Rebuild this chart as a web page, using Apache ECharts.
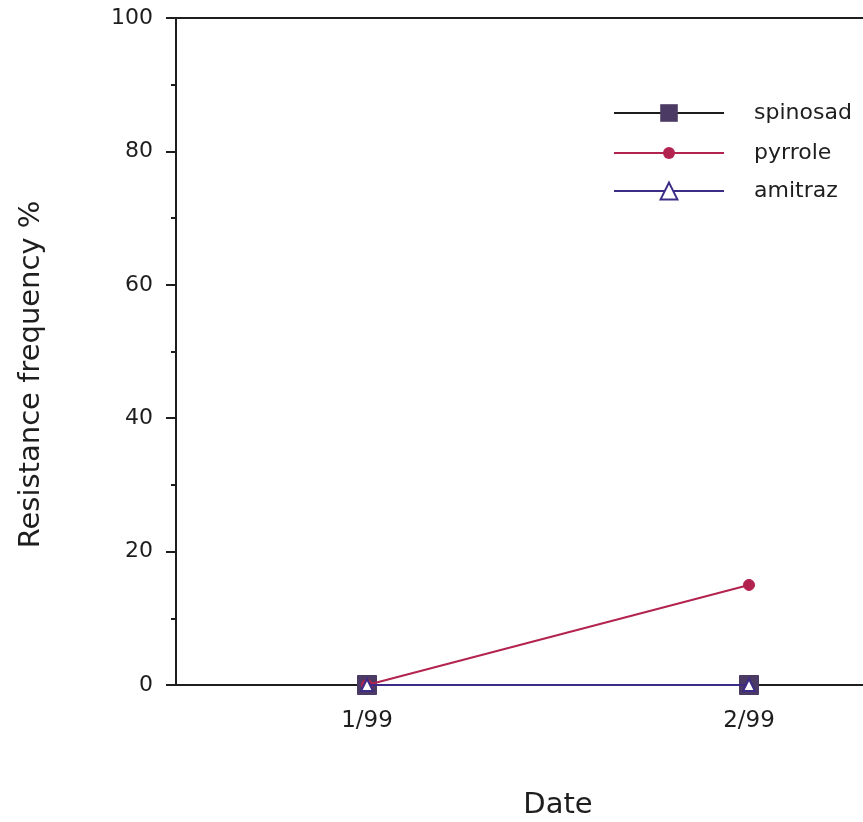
<!DOCTYPE html>
<html>
<head>
<meta charset="utf-8">
<style>
  html, body { margin: 0; padding: 0; background: #fff; overflow: hidden; }
  #chart { width: 950px; height: 822px; }
</style>
<script src="https://cdn.jsdelivr.net/npm/echarts@6/dist/echarts.min.js"></script>
</head>
<body>
<div id="chart"></div>
<script>
// Sampling dates and resistance frequencies (%) per insecticide
const dates = ['1/99', '2/99'];
const spinosad = [0, 0];
const pyrrole = [0, 15];
const amitraz = [0, 0];
const yTicks = [0, 20, 40, 60, 80, 100];

const ink = '#1e1e1e';
const font = 'DejaVu Sans, Verdana, sans-serif';

const colors = {
  spinosad: { line: '#1c1c1c', mark: '#4b3a63' },
  pyrrole: { line: '#b3234f', mark: '#b3234f' },
  amitraz: { line: '#3d2c86', mark: '#3d2c86' }
};

// one legend block per series so each icon keeps its own marker size
function legendBlock(name, top, itemHeight) {
  return {
    left: 608, top: top,
    orient: 'vertical',
    itemWidth: 110, itemHeight: itemHeight,
    textStyle: { fontFamily: font, fontSize: 22, lineHeight: 22, color: ink, padding: [0, 0, 0, 25] },
    data: [name]
  };
}

const chart = echarts.init(document.getElementById('chart'));
chart.setOption({
  backgroundColor: '#fff',
  animation: false,
  grid: {
    left: 176, top: 18, width: 764, height: 667,
    outerBoundsMode: 'none',
    show: true, borderColor: ink, borderWidth: 2, backgroundColor: 'transparent'
  },
  legend: [
    legendBlock('spinosad', 97, 22),
    legendBlock('pyrrole', 137, 15),
    legendBlock('amitraz', 175, 21)
  ],
  xAxis: {
    type: 'category',
    data: dates,
    boundaryGap: true,
    name: 'Date',
    nameLocation: 'middle',
    nameGap: 106,
    nameTextStyle: { fontFamily: font, fontSize: 29, color: ink },
    axisLine: { lineStyle: { color: ink, width: 2 } },
    axisTick: { show: false },
    axisLabel: { fontFamily: font, fontSize: 23, color: ink, margin: 25 }
  },
  yAxis: {
    type: 'value',
    min: 0, max: 100, interval: 20,
    name: 'Resistance frequency %',
    nameLocation: 'middle',
    nameGap: 130,
    nameTextStyle: { fontFamily: font, fontSize: 29, color: ink, padding: [0, 46, 0, 0] },
    axisLine: { show: true, lineStyle: { color: ink, width: 2 } },
    axisTick: { show: true, inside: false, length: 10, lineStyle: { color: ink, width: 2 } },
    minorTick: { show: true, splitNumber: 2, length: 5, lineStyle: { color: ink, width: 2 } },
    splitLine: { show: false },
    axisLabel: {
      fontFamily: font, fontSize: 22, color: ink, margin: 23,
      formatter: v => yTicks.includes(v) ? String(v) : ''
    }
  },
  series: [
    {
      name: 'spinosad', type: 'line', data: spinosad, z: 2,
      symbol: 'rect', symbolSize: 19,
      lineStyle: { color: colors.spinosad.line, width: 2 },
      itemStyle: { color: colors.spinosad.mark, borderColor: colors.spinosad.mark }
    },
    {
      name: 'pyrrole', type: 'line', data: pyrrole, z: 3,
      symbol: 'circle', symbolSize: 11,
      lineStyle: { color: colors.pyrrole.line, width: 2 },
      itemStyle: { color: colors.pyrrole.mark, borderColor: colors.pyrrole.mark }
    },
    {
      name: 'amitraz', type: 'line', data: amitraz, z: 4,
      symbol: 'triangle', symbolSize: 12,
      lineStyle: { color: colors.amitraz.line, width: 2 },
      itemStyle: { color: '#fff', borderColor: colors.amitraz.mark, borderWidth: 2 }
    }
  ]
});
</script>
</body>
</html>
